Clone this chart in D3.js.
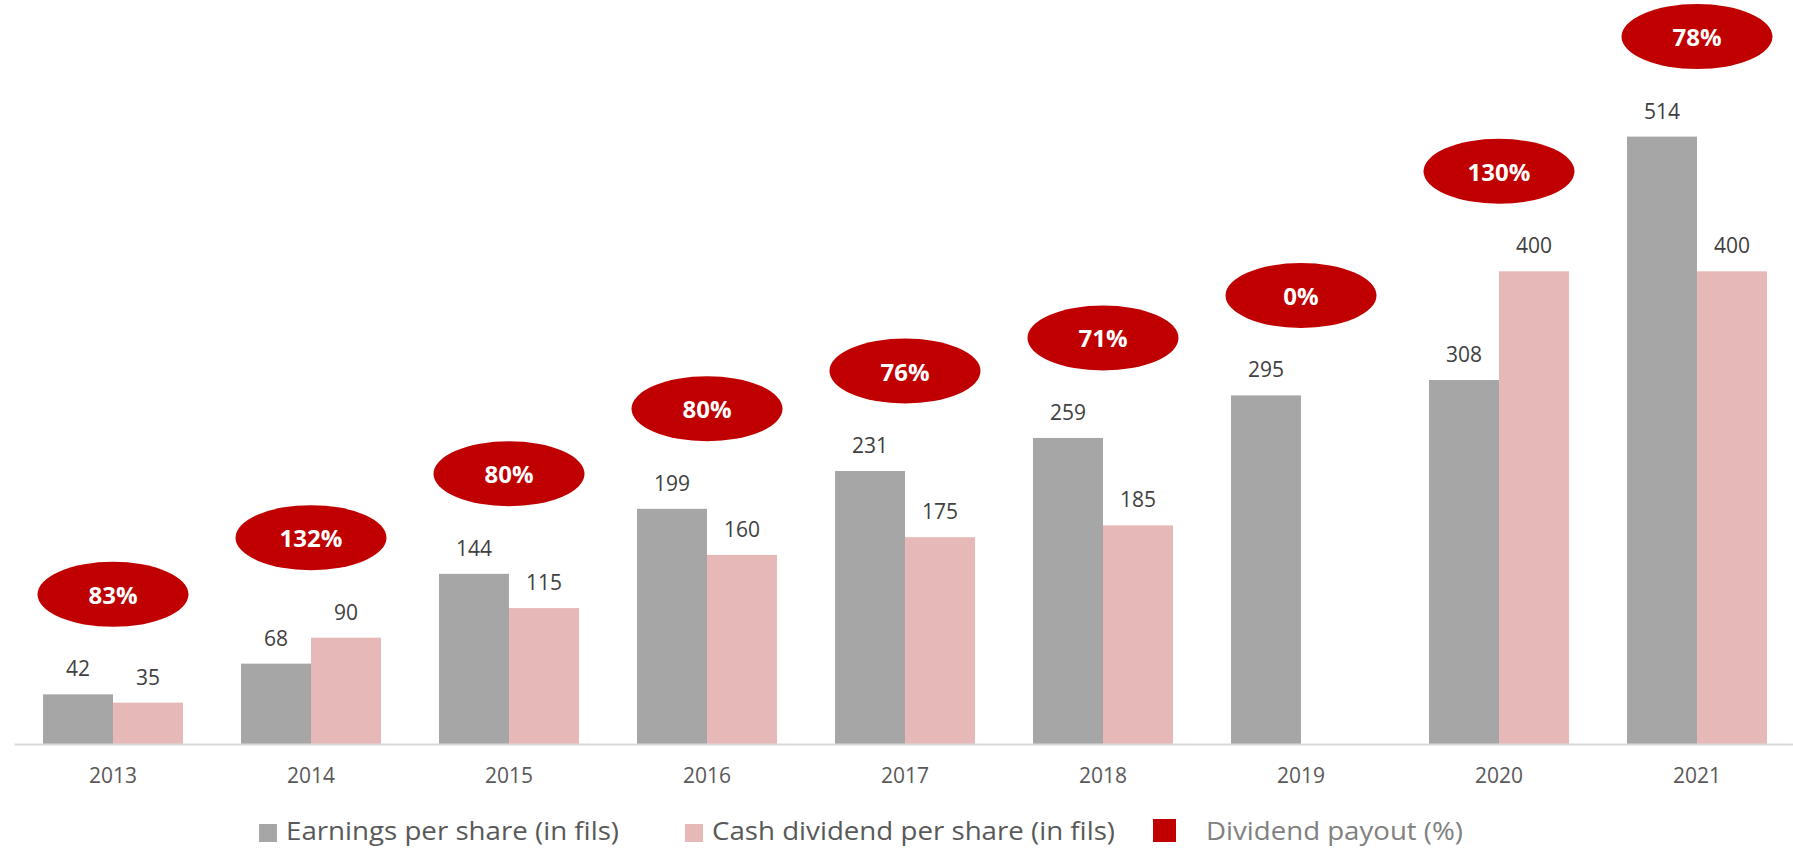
<!DOCTYPE html>
<html>
<head>
<meta charset="utf-8">
<script src="https://cdn.jsdelivr.net/npm/d3@7"></script>
<style>
  body { margin: 0; background: #fff; }
  svg { display: block; font-family: "Open Sans", sans-serif; }
</style>
</head>
<body>
<div id="chart"></div>
<script>
// data
const years = ['2013', '2014', '2015', '2016', '2017', '2018', '2019', '2020', '2021'];
const eps = [42, 68, 144, 199, 231, 259, 295, 308, 514];
const dividend = [35, 90, 115, 160, 175, 185, 0, 400, 400];
const payout = [83, 132, 80, 80, 76, 71, 0, 130, 78];
const seriesKeys = ['eps', 'div'];
const legendLabels = ['Earnings per share (in fils)', 'Cash dividend per share (in fils)', 'Dividend payout (%)'];

const width = 1793, height = 849;
const colors = {eps: '#a6a6a6', div: '#e6b8b7', payout: '#c00000'};

const rows = years.map((y, i) => ({year: y, eps: eps[i], div: dividend[i], payout: payout[i]}));

const svg = d3.select('#chart').append('svg')
    .attr('width', width)
    .attr('height', height);

const x = d3.scaleBand().domain(years).range([14, 1796]).padding(0);
const x1 = d3.scaleBand().domain(seriesKeys).range([0, x.bandwidth()])
    .paddingInner(0).paddingOuter(0.414);
const y = d3.scaleLinear().domain([0, 600]).range([744, 35]);

// bars
const groups = svg.append('g').selectAll('g')
    .data(rows)
    .enter()
    .append('g')
    .attr('transform', d => 'translate(' + x(d.year) + ',0)');

groups.selectAll('rect')
    .data(d => seriesKeys.map(k => ({key: k, value: d[k]})))
    .enter()
    .append('rect')
    .attr('x', d => x1(d.key))
    .attr('y', d => y(d.value))
    .attr('width', x1.bandwidth())
    .attr('height', d => y(0) - y(d.value))
    .attr('fill', d => colors[d.key]);

groups.selectAll('text.val')
    .data(d => seriesKeys.map(k => ({key: k, value: d[k]})).filter(v => v.value > 0))
    .enter()
    .append('text')
    .attr('class', 'val')
    .text(d => d.value)
    .attr('x', d => x1(d.key) + x1.bandwidth() / 2)
    .attr('y', d => y(d.value) - 18)
    .attr('text-anchor', 'middle')
    .attr('font-size', 21)
    .attr('fill', '#404040');

// x axis
const xAxis = svg.append('g')
    .attr('transform', 'translate(0,' + y(0) + ')')
    .call(d3.axisBottom(x).tickSize(0).tickPadding(24));
xAxis.select('.domain').attr('stroke', '#d9d9d9').attr('stroke-width', 2);
xAxis.selectAll('text')
    .attr('font-size', 21)
    .attr('font-family', '"Open Sans", sans-serif')
    .attr('fill', '#595959');

// payout ellipses, sitting above the taller bar of each year
const bubbles = svg.append('g').selectAll('g')
    .data(rows)
    .enter()
    .append('g')
    .attr('transform', d => 'translate(' + (x(d.year) + x.bandwidth() / 2) + ',' + (y(Math.max(d.eps, d.div)) - 100) + ')');

bubbles.append('ellipse')
    .attr('rx', 75.5)
    .attr('ry', 32.5)
    .attr('fill', colors.payout);

bubbles.append('text')
    .text(d => d.payout + '%')
    .attr('text-anchor', 'middle')
    .attr('dominant-baseline', 'central')
    .attr('font-size', 24)
    .attr('font-weight', 'bold')
    .attr('fill', '#fff');

// legend
const legendSwatch = [colors.eps, colors.div, colors.payout];
const legendBoxX = [259, 685, 1153];
const legendBoxSize = [18, 18, 23];
const legendTextX = [286, 712, 1206];
const legendTextW = [333, 403, 257];
const legendTextColor = ['#595959', '#595959', '#808080'];

const legend = svg.append('g').selectAll('g')
    .data(legendLabels)
    .enter()
    .append('g');

legend.append('rect')
    .attr('x', (d, i) => legendBoxX[i])
    .attr('y', (d, i) => 842 - legendBoxSize[i])
    .attr('width', (d, i) => legendBoxSize[i])
    .attr('height', (d, i) => legendBoxSize[i])
    .attr('fill', (d, i) => legendSwatch[i]);

legend.append('text')
    .text(d => d)
    .attr('x', (d, i) => legendTextX[i])
    .attr('y', 840)
    .attr('font-size', 25)
    .attr('textLength', (d, i) => legendTextW[i])
    .attr('lengthAdjust', 'spacingAndGlyphs')
    .attr('fill', (d, i) => legendTextColor[i]);
</script>
</body>
</html>
